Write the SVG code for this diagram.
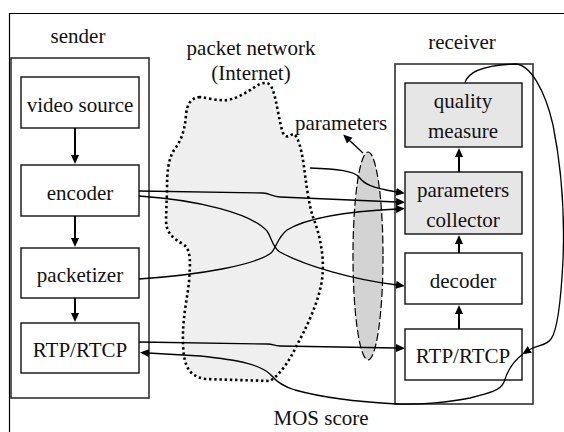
<svg xmlns="http://www.w3.org/2000/svg" width="564" height="432" viewBox="0 0 564 432">
  <style>
    text { font-family: 'Liberation Serif', 'Times New Roman', 'DejaVu Serif', Times, serif; font-size: 21px; fill: #111; text-anchor: middle; }
    .group { fill: #fff; stroke: #333; stroke-width: 1.6; }
    .box { fill: #fff; stroke: #111; stroke-width: 1.4; }
    .box.shaded { fill: #e6e6e6; }
    .flow { fill: none; stroke: #000; stroke-width: 2; }
    .wire { fill: none; stroke: #000; stroke-width: 1.3; }
  </style>
  <defs>
    <marker id="head" markerUnits="userSpaceOnUse" markerWidth="10" markerHeight="9" refX="1" refY="4" orient="auto">
      <path d="M0,0 L9,4 L0,8 Z" fill="#000"/>
    </marker>
  </defs>

  <rect width="564" height="432" fill="#fff"/>
  <!-- outer frame (continues past the canvas) -->
  <path d="M9.5,432 L9.5,13.5 L564,13.5" fill="none" stroke="#000" stroke-width="1.2"/>

  <!-- packet network cloud -->
  <g id="network">
    <path d="M200,97 C190,98 187,105 186,115 C185,128 182,140 174,150 C168,160 167,172 167,190 L166,220 C166,232 172,238 183,244 C192,250 190,265 189,282 C187,300 182,320 183,345 C184,365 188,376 205,379 L270,381 C280,375 290,360 297,345 C305,330 318,305 322,280 C325,258 320,235 313,217 C308,202 306,180 303,160 C301,148 298,137 294,134 C290,134 287,140 283,133 C279,122 277,100 272,88 C270,83 266,82 260,84 C252,88 242,97 228,100 C218,101 208,98 200,97 Z" fill="#efefef" stroke="#000" stroke-width="2.6" stroke-dasharray="2.4 2.8"/>
    <text x="251" y="55" font-family="Liberation Serif, serif">packet network</text>
    <text x="251" y="80" font-family="Liberation Serif, serif">(Internet)</text>
  </g>

  <!-- parameters bundle -->
  <g id="parameters">
    <ellipse cx="368" cy="256" rx="15" ry="104" fill="#d3d3d3" stroke="#000" stroke-width="1.2" stroke-dasharray="8 3"/>
    <text x="341" y="130">parameters</text>
    <path class="wire" d="M363,153 L349,140" marker-end="url(#head)"/>
  </g>

  <!-- sender side -->
  <g id="sender">
    <rect class="group" x="11" y="58" width="138" height="340"/>
    <text x="78" y="43">sender</text>
  </g>
  <g id="video-source">
    <rect class="box" x="21" y="77" width="118" height="51"/>
    <text x="80" y="112">video source</text>
  </g>
  <g id="encoder">
    <rect class="box" x="21" y="165" width="118" height="51"/>
    <text x="80" y="200">encoder</text>
  </g>
  <g id="packetizer">
    <rect class="box" x="21" y="248" width="118" height="50"/>
    <text x="80" y="282">packetizer</text>
  </g>
  <g id="sender-rtp">
    <rect class="box" x="21" y="323" width="118" height="50"/>
    <text x="80" y="357">RTP/RTCP</text>
  </g>

  <!-- receiver side -->
  <g id="receiver">
    <rect class="group" x="395" y="64" width="138" height="340"/>
    <text x="462" y="49">receiver</text>
  </g>
  <g id="quality-measure">
    <rect class="box shaded" x="405" y="83" width="117" height="64"/>
    <text x="463" y="108">quality</text>
    <text x="463" y="138">measure</text>
  </g>
  <g id="parameters-collector">
    <rect class="box shaded" x="405" y="172" width="117" height="62"/>
    <text x="463" y="197">parameters</text>
    <text x="463" y="227">collector</text>
  </g>
  <g id="decoder">
    <rect class="box" x="405" y="253" width="117" height="51"/>
    <text x="463" y="288">decoder</text>
  </g>
  <g id="receiver-rtp">
    <rect class="box" x="405" y="329" width="117" height="51"/>
    <text x="463" y="363">RTP/RTCP</text>
  </g>

  <!-- connectors -->
  <g id="connectors">
    <!-- sender pipeline -->
    <path class="flow" d="M75,128 L75,156" marker-end="url(#head)"/>
    <path class="flow" d="M75,216 L75,239" marker-end="url(#head)"/>
    <path class="flow" d="M75,298 L75,314" marker-end="url(#head)"/>
    <!-- receiver pipeline -->
    <path class="flow" d="M459,172 L459,156" marker-end="url(#head)"/>
    <path class="flow" d="M459,253 L459,243" marker-end="url(#head)"/>
    <path class="flow" d="M459,329 L459,313" marker-end="url(#head)"/>

    <!-- network measurements to collector -->
    <path class="wire" d="M310,168 C338,169 354,171 359,177 C364,184 372,188 397,192" marker-end="url(#head)"/>
    <!-- encoder to collector -->
    <path class="wire" d="M139,191 L263,193 C270,193 272,197 280,197 L397,202" marker-end="url(#head)"/>
    <!-- packetizer to collector -->
    <path class="wire" d="M139,279 C200,275 255,265 271,253 C277,247 277,238 287,230 C310,216 355,211 397,209" marker-end="url(#head)"/>
    <!-- encoder to decoder -->
    <path class="wire" d="M139,196 C200,200 252,214 267,231 C272,238 272,247 280,252 C305,266 355,280 397,285" marker-end="url(#head)"/>
    <!-- RTP stream -->
    <path class="wire" d="M139,342 L268,344 C273,344 274,346 280,346 L397,348" marker-end="url(#head)"/>
    <!-- quality measure feedback to receiver RTCP -->
    <path class="wire" d="M465,83 C468,70 490,65 515,64 C530,64 545,90 553,125 C561,165 565,210 563,260 C561,300 558,330 551,339 C546,346 537,345 529,350" marker-end="url(#head)"/>
    <!-- MOS score report back to sender -->
    <path class="wire" d="M523,354 C512,362 507,372 504,382 C501,390 490,393 470,398 C450,402 420,405 397,404 C360,402 320,397 295,390 C282,386 276,381 272,376 C262,365 240,360 200,356 L148,353" marker-end="url(#head)"/>
  </g>

  <text x="321" y="425">MOS score</text>
</svg>
